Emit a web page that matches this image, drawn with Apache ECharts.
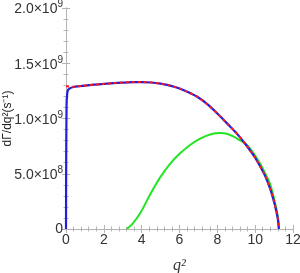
<!DOCTYPE html>
<html><head><meta charset="utf-8">
<script src="https://cdn.jsdelivr.net/npm/echarts@6/dist/echarts.min.js"></script>
<style>html,body{margin:0;padding:0;background:#fff}#c{width:300px;height:273px}</style>
</head><body><div id="c"></div>
<script>
const xTicks = [0, 2, 4, 6, 8, 10, 12];
const yTickLabels = {0: '0', 500000000: '5.0×10|8', 1000000000: '1.0×10|9', 1500000000: '1.5×10|9', 2000000000: '2.0×10|9'};
const qBlue = [0, 0.01, 0.03, 0.06, 0.1, 0.2, 0.4, 0.7, 1, 1.5, 2, 2.5, 3, 3.5, 4, 4.5, 5, 5.5, 6, 6.5, 7, 7.5, 8, 8.5, 9, 9.5, 10, 10.5, 10.8, 11, 11.1, 11.2, 11.25];
const blueVals = [0, 0.6, 1.12, 1.22, 1.255, 1.273, 1.285, 1.292, 1.298, 1.306, 1.313, 1.32, 1.325, 1.329, 1.33, 1.326, 1.315, 1.298, 1.272, 1.235, 1.19, 1.125, 1.045, 0.958, 0.87, 0.765, 0.645, 0.49, 0.36, 0.245, 0.175, 0.09, 0];
const qRed = [0, 0.4, 0.7, 1, 1.5, 2, 2.5, 3, 3.5, 4, 4.5, 5, 5.5, 6, 6.5, 7, 7.5, 8, 8.5, 9, 9.5, 10, 10.5, 10.8, 11, 11.1, 11.2, 11.25];
const redVals = [1.292, 1.288, 1.292, 1.298, 1.306, 1.313, 1.32, 1.325, 1.329, 1.33, 1.326, 1.315, 1.298, 1.272, 1.235, 1.19, 1.125, 1.045, 0.958, 0.87, 0.765, 0.645, 0.49, 0.36, 0.245, 0.175, 0.09, 0];
const qGreen = [3.21, 3.5, 3.92, 4.44, 4.97, 5.5, 6.03, 6.56, 7.09, 7.62, 8.15, 8.5, 8.84, 9.2, 9.55, 9.9, 10.25, 10.5, 10.78, 11.05, 11.22, 11.26];
const greenVals = [0, 0.045, 0.142, 0.31, 0.465, 0.59, 0.685, 0.76, 0.818, 0.856, 0.868, 0.862, 0.838, 0.802, 0.762, 0.69, 0.595, 0.515, 0.412, 0.24, 0.085, 0];
const SCALE = 1e9;
const pair = (xs, ys) => xs.map((x, i) => [x, ys[i] * SCALE]);

const chart = echarts.init(document.getElementById('c'));
const GREY = '#b4b4b4';
const axisCommon = {
  axisLine: {lineStyle: {color: GREY, width: 1}},
  axisTick: {inside: true, length: 4, lineStyle: {color: GREY}},
  minorTick: {show: true, splitNumber: 5, length: 2.5, lineStyle: {color: GREY}},
  splitLine: {show: false}
};
chart.setOption({
  animation: false,
  grid: {left: 66, right: 7, top: 8, bottom: 44, containLabel: false, outerBoundsMode: 'none'},
  xAxis: [
    Object.assign({type: 'value', min: 0, max: 12, interval: 2, position: 'bottom',
      axisLabel: {color: '#333', fontSize: 14, fontFamily: 'Liberation Sans', margin: 4},
      name: 'q²', nameLocation: 'middle', nameGap: 29, nameMoveOverlap: false,
      nameTextStyle: {color: '#333', fontSize: 16, fontStyle: 'italic', fontFamily: 'Liberation Serif'}}, axisCommon),
    Object.assign({type: 'value', min: 0, max: 12, interval: 2, position: 'top', axisLabel: {show: false}}, axisCommon)
  ],
  yAxis: [
    Object.assign({type: 'value', min: 0, max: 2e9, interval: 5e8, position: 'left',
      axisLabel: {color: '#333', fontFamily: 'Liberation Sans', margin: 3,
        formatter: v => {
          const s = yTickLabels[v];
          if (s === undefined) return '';
          const p = s.split('|');
          return p.length === 1 ? '{a|' + p[0] + '}' : '{a|' + p[0] + '}{s|' + p[1] + '}';
        },
        rich: {a: {fontSize: 14, color: '#333', fontFamily: 'Liberation Sans', verticalAlign: 'bottom'},
               s: {fontSize: 10, color: '#333', fontFamily: 'Liberation Sans', verticalAlign: 'top', padding: [0, 0, 7, 0]}}},
      name: 'dΓ/dq²(s⁻¹)', nameLocation: 'middle', nameGap: 52, nameRotate: 90, nameMoveOverlap: false,
      nameTextStyle: {color: '#222', fontSize: 12, fontFamily: 'Liberation Sans'}}, axisCommon),
    Object.assign({type: 'value', min: 0, max: 2e9, interval: 5e8, position: 'right', axisLabel: {show: false}}, axisCommon)
  ],
  series: [
    {type: 'line', data: pair(qGreen, greenVals), showSymbol: false, smooth: 0.35,
     lineStyle: {color: '#22e622', width: 2}, z: 2},
    {type: 'line', data: pair(qBlue, blueVals), showSymbol: false, smooth: 0.3,
     lineStyle: {color: '#1f1fe0', width: 2.2}, z: 3},
    {type: 'line', data: pair(qRed, redVals), showSymbol: false, smooth: 0.3,
     lineStyle: {color: '#ff1a1a', width: 2, type: [3, 3]}, z: 4}
  ]
});
</script></body></html>
